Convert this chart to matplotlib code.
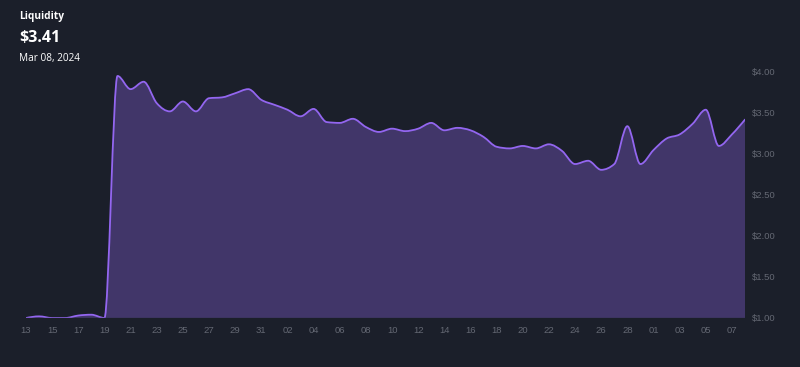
import datetime
import numpy as np
import matplotlib
matplotlib.use("Agg")
import matplotlib.pyplot as plt
import matplotlib.dates as mdates
from matplotlib.path import Path
from matplotlib.patches import PathPatch

# daily liquidity, Jan 13 -> Mar 08 2024
start_date = datetime.date(2024, 1, 13)
liquidity = [
    1.00, 1.02, 1.00, 1.00, 1.03, 1.04, 1.00,              # Jan 13-19
    3.94, 3.78, 3.87, 3.61, 3.51, 3.63, 3.51, 3.67, 3.68,  # Jan 20-28
    3.73, 3.78, 3.65,                                      # Jan 29-31
    3.59, 3.53, 3.45, 3.54, 3.38, 3.37, 3.42, 3.32, 3.26,  # Feb 01-09
    3.30, 3.27, 3.30, 3.37, 3.28, 3.31, 3.28, 3.20, 3.08,  # Feb 10-18
    3.06, 3.09, 3.06, 3.11, 3.03, 2.87, 2.91, 2.80, 2.87,  # Feb 19-27
    3.33, 2.87,                                            # Feb 28-29
    3.04, 3.18, 3.23, 3.36, 3.53, 3.09, 3.23, 3.41,        # Mar 01-08
]
dates = [start_date + datetime.timedelta(days=i) for i in range(len(liquidity))]
y_ticks = [1.0, 1.5, 2.0, 2.5, 3.0, 3.5, 4.0]

title = "Liquidity"
current = "$3.41"
current_date = "Mar 08, 2024"

BG = "#1b1f2a"
FILL = "#413669"
LINE = "#9366f0"
TXT = "#646873"


def monotone_path(x, y):
    # d3 curveMonotoneX style bezier segments
    x = np.asarray(x, float)
    y = np.asarray(y, float)
    h = np.diff(x)
    s = np.diff(y) / h
    n = len(x)
    t = np.zeros(n)
    for i in range(1, n - 1):
        p = (s[i - 1] * h[i] + s[i] * h[i - 1]) / (h[i - 1] + h[i])
        t[i] = (np.sign(s[i - 1]) + np.sign(s[i])) * min(abs(s[i - 1]), abs(s[i]), 0.5 * abs(p))
    t[0] = (3 * s[0] - t[1]) / 2
    t[-1] = (3 * s[-1] - t[-2]) / 2
    verts = [(x[0], y[0])]
    codes = [Path.MOVETO]
    for i in range(n - 1):
        dx = h[i] / 3
        verts += [(x[i] + dx, y[i] + dx * t[i]),
                  (x[i + 1] - dx, y[i + 1] - dx * t[i + 1]),
                  (x[i + 1], y[i + 1])]
        codes += [Path.CURVE4] * 3
    return verts, codes


xs = mdates.date2num(dates)
verts, codes = monotone_path(xs, liquidity)

fig = plt.figure(figsize=(8, 3.67), dpi=100)
fig.patch.set_facecolor(BG)
ax = fig.add_axes([26 / 800, 49 / 367, 719 / 800, 255.2 / 367])
ax.set_facecolor(BG)

fill_verts = verts + [(xs[-1], 1.0), (xs[0], 1.0), (xs[0], liquidity[0])]
fill_codes = codes + [Path.LINETO, Path.LINETO, Path.CLOSEPOLY]
ax.add_patch(PathPatch(Path(fill_verts, fill_codes), facecolor=FILL, edgecolor="none", zorder=1))
ax.add_patch(PathPatch(Path(verts, codes), facecolor="none", edgecolor=LINE, lw=1.3,
                       capstyle="round", joinstyle="round", zorder=2))
ax.axhline(1.0, color="#2a2d3c", lw=1.0, zorder=3)

ax.set_xlim(xs[0], xs[-1])
ax.set_ylim(1.0, 4.1)

ax.xaxis_date()
ax.set_xticks(xs[::2])
ax.xaxis.set_major_formatter(mdates.DateFormatter("%d"))
ax.yaxis.tick_right()
ax.set_yticks(y_ticks)
ax.set_yticklabels(["$%.2f" % v for v in y_ticks])

for s in ax.spines.values():
    s.set_visible(False)
ax.tick_params(axis="both", length=0, colors=TXT, labelsize=6.8)
ax.tick_params(axis="x", pad=6)
ax.tick_params(axis="y", pad=5)
for lab in ax.get_xticklabels() + ax.get_yticklabels():
    lab.set_family("Liberation Sans")

fig.text(19 / 800, 1 - 16 / 367, title, color="white", fontsize=7.3, fontweight="bold",
         family="Open Sans", va="center")
fig.text(19 / 800, 1 - 38 / 367, current, color="white", fontsize=11.5, fontweight="bold",
         family="Open Sans", va="center")
fig.text(19 / 800, 1 - 58.5 / 367, current_date, color="white", fontsize=7.2,
         family="Open Sans", va="center")

fig.savefig("out.png", dpi=100, facecolor=BG)
